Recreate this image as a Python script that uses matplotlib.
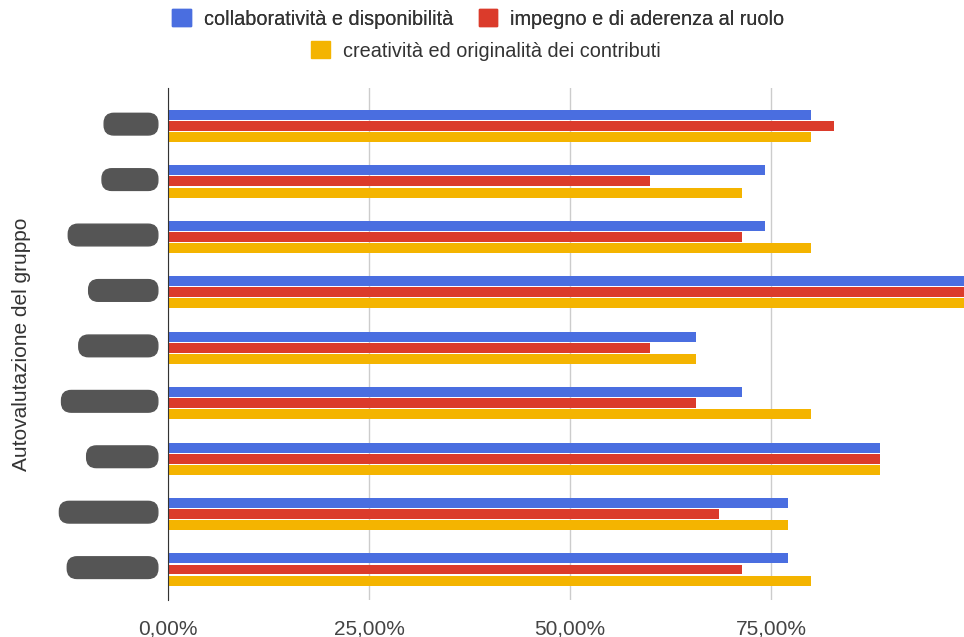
import matplotlib.pyplot as plt
import numpy as np
from matplotlib.patches import Patch
from matplotlib.ticker import FuncFormatter

plt.rcParams['font.family'] = ['Liberation Sans', 'DejaVu Sans']

# nomi dei membri del gruppo (coperti nel grafico)
membri = ['Alfieri', 'Costa', 'De Santis', 'Ferraro', 'Gargiulo',
          'Palmisano', 'Serafini', 'Spagnuolo', 'Vitagliano']
serie = ['collaboratività e disponibilità',
         'impegno e di aderenza al ruolo',
         'creatività ed originalità dei contributi']
collaborativita = [28/35, 26/35, 26/35, 1.0, 23/35, 25/35, 31/35, 27/35, 27/35]
impegno = [29/35, 21/35, 25/35, 1.0, 21/35, 23/35, 31/35, 24/35, 25/35]
creativita = [28/35, 25/35, 28/35, 1.0, 23/35, 28/35, 31/35, 27/35, 28/35]
colori = ['#4a6ee0', '#db3b2b', '#f4b400']

fig = plt.figure(figsize=(9.64, 6.37), dpi=100)
ax = fig.add_axes([168/964, 1 - 600/637, 1 - 168/964, 512/637])

y = np.arange(len(membri))
h = 0.18
passo = 0.2
for k, (vals, col) in enumerate(zip([collaborativita, impegno, creativita], colori)):
    ax.barh(y + (k - 1) * passo, vals, height=h, color=col, zorder=3)

ax.set_xlim(0, 0.99)
ax.set_ylim(8.55, -0.686)
ax.set_xticks([0, 0.25, 0.5, 0.75])
ax.xaxis.set_major_formatter(FuncFormatter(lambda v, p: f'{v*100:.2f}%'.replace('.', ',')))
ax.grid(axis='x', color='#cccccc', linewidth=1, zorder=0)
ax.tick_params(axis='x', length=0, pad=14, labelsize=15, labelcolor='#444444')
ax.tick_params(axis='y', length=0, pad=9, labelsize=14)
for s in ['top', 'right', 'bottom']:
    ax.spines[s].set_visible(False)
ax.spines['left'].set_color('#333333')
ax.spines['left'].set_zorder(4)

ax.set_yticks(y - 0.07)
ax.set_yticklabels(membri, color='#555555', va='center_baseline')
for lab in ax.get_yticklabels():
    lab.set_bbox(dict(boxstyle='round,pad=0.12,rounding_size=0.5', fc='#555555', ec='#555555'))

ax.set_ylabel('Autovalutazione del gruppo', fontsize=15, color='#333333')
ax.yaxis.set_label_coords(-0.172, 0.5)

maniglie = [Patch(color=c) for c in colori]
leg1 = fig.legend(maniglie[:2], serie[:2], loc='center', bbox_to_anchor=(0.496, 1 - 19/637),
                  ncol=2, frameon=False, fontsize=14.3, handlelength=0.95, handleheight=0.95,
                  columnspacing=1.3, handletextpad=0.65, labelcolor='#333333')
leg2 = fig.legend(maniglie[2:], serie[2:], loc='center', bbox_to_anchor=(0.504, 1 - 51/637),
                  frameon=False, fontsize=14.3, handlelength=0.95, handleheight=0.95,
                  handletextpad=0.65, labelcolor='#333333')
fig.add_artist(leg1)

fig.savefig('out.png', dpi=100)
